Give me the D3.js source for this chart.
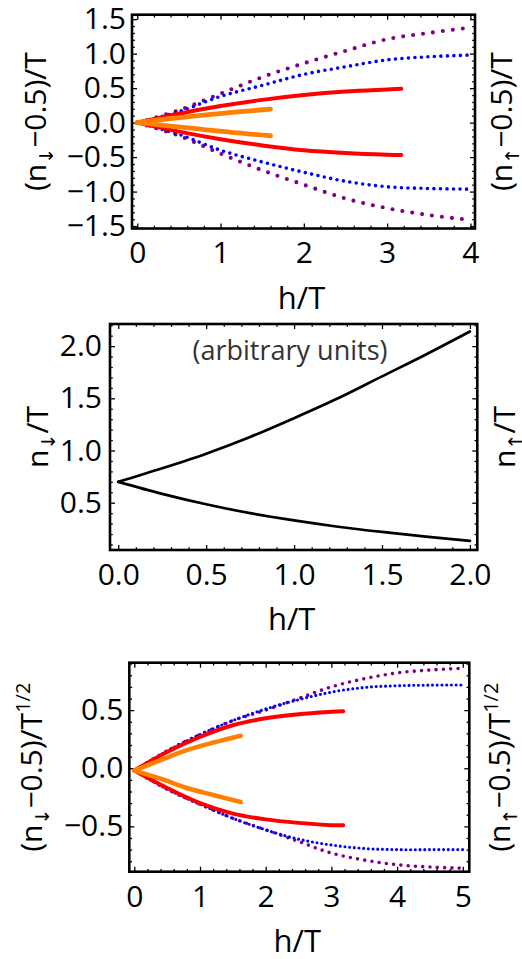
<!DOCTYPE html>
<html>
<head>
<meta charset="utf-8">
<script src="https://cdn.jsdelivr.net/npm/d3@7"></script>
<style>
  body { margin: 0; background: #fff; }
  text { font-family: "Open Sans", "Noto Sans", sans-serif; fill: #000; }
</style>
</head>
<body>
<script>
// ---- data ----
// top panel: (n - 0.5)/T against h/T
var topH = [0, 0.5, 1, 1.5, 2, 2.5, 3, 3.5, 4];
var topPurpleUp = [0, 0.18, 0.42, 0.66, 0.86, 1.04, 1.21, 1.30, 1.38];
var topPurpleDn = [0, -0.19, -0.45, -0.69, -0.90, -1.10, -1.24, -1.34, -1.41];
var topBlueUp = [0, 0.16, 0.38, 0.54, 0.70, 0.81, 0.91, 0.955, 0.98];
var topBlueDn = [0, -0.17, -0.40, -0.57, -0.72, -0.85, -0.93, -0.955, -0.965];
var topRedH = [0, 0.5, 1, 1.5, 2, 2.5, 3, 3.17];
var topRedUp = [0, 0.13, 0.24, 0.33, 0.40, 0.45, 0.48, 0.49];
var topRedDn = [0, -0.13, -0.24, -0.33, -0.40, -0.44, -0.465, -0.47];
var topOrangeH = [0, 0.4, 0.8, 1.2, 1.6];
var topOrangeUp = [0, 0.06, 0.11, 0.155, 0.195];
var topOrangeDn = [0, -0.05, -0.10, -0.15, -0.19];

// middle panel: n/T against h/T
var midH = [0, 0.25, 0.5, 0.75, 1, 1.25, 1.5, 1.75, 2];
var midUp = [0.70, 0.83, 0.97, 1.13, 1.31, 1.50, 1.71, 1.92, 2.14];
var midDn = [0.70, 0.585, 0.485, 0.40, 0.33, 0.27, 0.22, 0.175, 0.135];

// bottom panel: (n - 0.5)/T^(1/2) against h/T
var botH = [0, 0.5, 1, 1.5, 2, 2.5, 3, 3.5, 4, 4.5, 5];
var botBlueUp = [-0.02, 0.15, 0.29, 0.41, 0.51, 0.59, 0.655, 0.695, 0.71, 0.715, 0.716];
var botBlueDn = [-0.02, -0.18, -0.31, -0.43, -0.53, -0.61, -0.66, -0.69, -0.70, -0.70, -0.70];
var botPurpleUp = [-0.02, 0.15, 0.29, 0.41, 0.50, 0.60, 0.70, 0.77, 0.82, 0.845, 0.86];
var botPurpleDn = [-0.02, -0.18, -0.31, -0.43, -0.53, -0.63, -0.73, -0.79, -0.83, -0.85, -0.86];
var botRedH = [0, 0.5, 1, 1.5, 2, 2.5, 3, 3.18];
var botRedUp = [-0.02, 0.14, 0.27, 0.37, 0.43, 0.465, 0.485, 0.49];
var botRedDn = [-0.02, -0.17, -0.30, -0.39, -0.44, -0.47, -0.49, -0.49];
var botOrangeH = [0, 0.4, 0.8, 1.2, 1.62];
var botOrangeUp = [-0.02, 0.07, 0.155, 0.22, 0.28];
var botOrangeDn = [-0.02, -0.09, -0.17, -0.23, -0.29];

// tick values
var topXTicks = [0, 1, 2, 3, 4];
var topYTicks = [-1.5, -1, -0.5, 0, 0.5, 1, 1.5];
var midXTicks = [0, 0.5, 1, 1.5, 2];
var midYTicks = [0.5, 1, 1.5, 2];
var botXTicks = [0, 1, 2, 3, 4, 5];
var botYTicks = [-0.5, 0, 0.5];

var svg = d3.select("body").append("svg")
    .attr("width", 522)
    .attr("height", 959);

function minorTicks(lo, hi, step, major) {
    return d3.range(Math.round(lo / step), Math.round(hi / step) + 1)
        .map(function(i) { return +(i * step).toFixed(3); })
        .filter(function(v) { return major.indexOf(v) < 0; });
}

function panel(p) {
    var x = d3.scaleLinear().domain(p.xDomain).range([p.left, p.right]);
    var y = d3.scaleLinear().domain(p.yDomain).range([p.bottom, p.top]);
    var g = svg.append("g");

    function ax(axis, tr, vals, size, labels, pad) {
        var a = axis.tickValues(vals).tickSizeInner(-size).tickSizeOuter(0).tickPadding(pad || 0);
        a.tickFormat(labels ? labels : function() { return ""; });
        var sel = g.append("g").attr("transform", tr).call(a);
        sel.select(".domain").remove();
        sel.selectAll("line").attr("stroke", "#000").attr("stroke-width", 1.3);
        sel.selectAll("text")
            .style("font-size", "30px")
            .style("font-family", '"Open Sans", sans-serif')
            .style("fill", "#000");
        return sel;
    }
    var xMin = minorTicks(0, p.xTicks[p.xTicks.length - 1], p.xMinor, p.xTicks);
    var yMin = minorTicks(p.yMinorLo, p.yMinorHi, p.yMinor, p.yTicks);

    ax(d3.axisBottom(x), "translate(0," + p.bottom + ")", p.xTicks, 5, p.xFmt, p.xPad);
    ax(d3.axisBottom(x), "translate(0," + p.bottom + ")", xMin, 2.8);
    ax(d3.axisTop(x), "translate(0," + p.top + ")", p.xTicks, 5);
    ax(d3.axisTop(x), "translate(0," + p.top + ")", xMin, 2.8);
    ax(d3.axisLeft(y), "translate(" + p.left + ",0)", p.yTicks, 5, p.yFmt, p.yPad);
    ax(d3.axisLeft(y), "translate(" + p.left + ",0)", yMin, 2.8);
    ax(d3.axisRight(y), "translate(" + p.right + ",0)", p.yTicks, 5);
    ax(d3.axisRight(y), "translate(" + p.right + ",0)", yMin, 2.8);

    var line = d3.line()
        .x(function(d) { return x(d[0]); })
        .y(function(d) { return y(d[1]); })
        .curve(d3.curveCatmullRom.alpha(0.5));

    p.series.forEach(function(s) {
        var path = g.append("path")
            .attr("d", line(d3.zip(s.h, s.v)))
            .attr("fill", "none")
            .attr("stroke", s.color)
            .attr("stroke-width", s.width)
            .attr("stroke-linecap", "round");
        if (s.gap) path.attr("stroke-dasharray", "0 " + s.gap);
    });

    g.append("rect")
        .attr("x", p.left).attr("y", p.top)
        .attr("width", p.right - p.left).attr("height", p.bottom - p.top)
        .attr("fill", "none").attr("stroke", "#000").attr("stroke-width", 2.6);

    // h/T title
    g.append("text")
        .attr("x", (p.left + p.right) / 2 - 2)
        .attr("y", p.bottom + 80)
        .attr("text-anchor", "middle")
        .attr("font-size", 31)
        .text("h/T");

    function sideLabel(cx, cy, arrow, tail, sup) {
        var t = g.append("text")
            .attr("transform", "translate(" + cx + "," + cy + ") rotate(-90)")
            .attr("text-anchor", "middle")
            .attr("y", 9)
            .attr("font-size", 30);
        t.append("tspan").text(p.pre + "n");
        t.append("tspan")
            .attr("font-size", 19).attr("dy", 7)
            .style("font-family", '"DejaVu Sans", sans-serif')
            .text(arrow);
        t.append("tspan").attr("dy", -7).text(tail);
        if (sup) t.append("tspan").attr("font-size", 20).attr("dy", -12).text(sup);
    }
    sideLabel(p.lx, (p.top + p.bottom) / 2, "\u2193", p.tail, p.sup);
    sideLabel(p.rx, (p.top + p.bottom) / 2, "\u2191", p.tail, p.sup);
    return { x: x, y: y, g: g };
}

var fmt1 = d3.format(".1f");
var fmt0 = d3.format("d");

panel({
    left: 132, right: 475, top: 14.7, bottom: 228.5,
    xDomain: [-0.063, 4.055], yDomain: [-1.535, 1.565],
    xTicks: topXTicks, yTicks: topYTicks, xMinor: 0.2, yMinor: 0.1,
    yMinorLo: -1.5, yMinorHi: 1.5,
    xFmt: fmt0, yFmt: fmt1, xPad: 13.5, yPad: 6,
    pre: "(", tail: "\u22120.5)/T", lx: 37, rx: 503,
    series: [
        { h: topH, v: topPurpleUp, color: "#800080", width: 4.1, gap: 10 },
        { h: topH, v: topPurpleDn, color: "#800080", width: 4.1, gap: 10 },
        { h: topH, v: topBlueUp, color: "#0000ff", width: 3.6, gap: 6.5 },
        { h: topH, v: topBlueDn, color: "#0000ff", width: 3.6, gap: 6.5 },
        { h: topRedH, v: topRedUp, color: "#ff0000", width: 4 },
        { h: topRedH, v: topRedDn, color: "#ff0000", width: 4 },
        { h: topOrangeH, v: topOrangeUp, color: "#ff8000", width: 4.8 },
        { h: topOrangeH, v: topOrangeDn, color: "#ff8000", width: 4.8 }
    ]
});

var mid = panel({
    left: 110, right: 477.3, top: 324, bottom: 550,
    xDomain: [-0.047, 2.042], yDomain: [0.047, 2.212],
    xTicks: midXTicks, yTicks: midYTicks, xMinor: 0.1, yMinor: 0.1,
    yMinorLo: 0.1, yMinorHi: 2.2,
    xFmt: fmt1, yFmt: fmt1, xPad: 13.7, yPad: 8,
    pre: "", tail: "/T", lx: 39, rx: 506,
    series: [
        { h: midH, v: midUp, color: "#000", width: 2.7 },
        { h: midH, v: midDn, color: "#000", width: 2.7 }
    ]
});
mid.g.append("text")
    .attr("x", 290).attr("y", 360)
    .attr("text-anchor", "middle")
    .attr("font-size", 27)
    .style("fill", "#333")
    .text("(arbitrary units)");

panel({
    left: 129.3, right: 469.3, top: 662.7, bottom: 871.7,
    xDomain: [-0.076, 5.099], yDomain: [-0.89, 0.908],
    xTicks: botXTicks, yTicks: botYTicks, xMinor: 0.2, yMinor: 0.1,
    yMinorLo: -0.8, yMinorHi: 0.9,
    xFmt: fmt0, yFmt: fmt1, xPad: 13.7, yPad: 6,
    pre: "(", tail: "\u22120.5)/T", sup: "1/2", lx: 33, rx: 501,
    series: [
        { h: botH, v: botPurpleUp, color: "#800080", width: 3.6, gap: 7.3 },
        { h: botH, v: botPurpleDn, color: "#800080", width: 3.6, gap: 7.3 },
        { h: botH, v: botBlueUp, color: "#0000ff", width: 3.1, gap: 4.7 },
        { h: botH, v: botBlueDn, color: "#0000ff", width: 3.1, gap: 4.7 },
        { h: botRedH, v: botRedUp, color: "#ff0000", width: 4 },
        { h: botRedH, v: botRedDn, color: "#ff0000", width: 4 },
        { h: botOrangeH, v: botOrangeUp, color: "#ff8000", width: 4.5 },
        { h: botOrangeH, v: botOrangeDn, color: "#ff8000", width: 4.5 }
    ]
});
</script>
</body>
</html>
